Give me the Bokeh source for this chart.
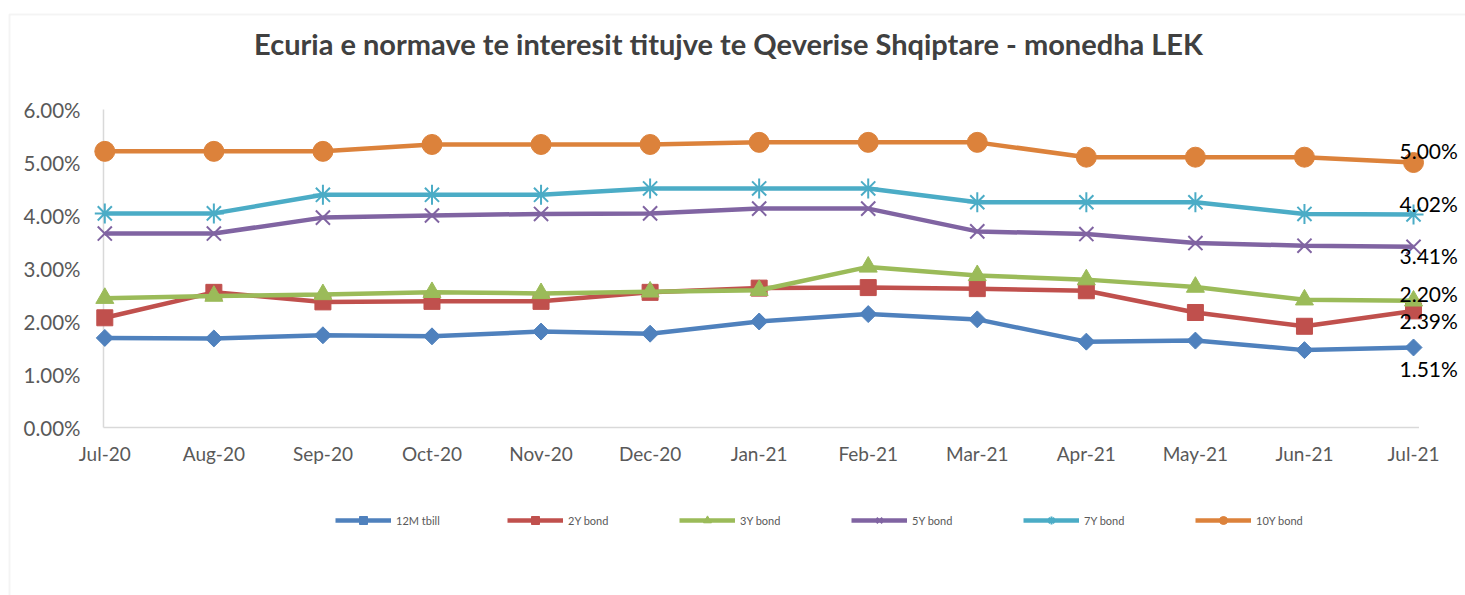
from bokeh.plotting import figure
from bokeh.models import (Range1d, Legend, LegendItem, Label, LabelSet,
                          ColumnDataSource, BoxAnnotation)
from bokeh.core.properties import value
from bokeh.embed import file_html
from bokeh.resources import INLINE
import math

# ---------------- data ----------------
months = ["Jul-20", "Aug-20", "Sep-20", "Oct-20", "Nov-20", "Dec-20", "Jan-21",
          "Feb-21", "Mar-21", "Apr-21", "May-21", "Jun-21", "Jul-21"]
tbill_12m = [1.69, 1.68, 1.74, 1.72, 1.81, 1.77, 2.00, 2.14, 2.04, 1.62, 1.64, 1.46, 1.51]
bond_2y = [2.07, 2.55, 2.37, 2.38, 2.38, 2.55, 2.63, 2.64, 2.62, 2.58, 2.17, 1.91, 2.20]
bond_3y = [2.44, 2.48, 2.51, 2.55, 2.53, 2.56, 2.59, 3.03, 2.87, 2.79, 2.65, 2.41, 2.39]
bond_5y = [3.66, 3.66, 3.96, 4.00, 4.03, 4.04, 4.13, 4.13, 3.70, 3.65, 3.48, 3.43, 3.41]
bond_7y = [4.04, 4.04, 4.39, 4.39, 4.39, 4.51, 4.51, 4.51, 4.25, 4.25, 4.25, 4.03, 4.02]
bond_10y = [5.21, 5.21, 5.21, 5.34, 5.34, 5.34, 5.38, 5.38, 5.38, 5.10, 5.10, 5.10, 5.00]
series_names = ["12M tbill", "2Y bond", "3Y bond", "5Y bond", "7Y bond", "10Y bond"]
y_ticks = [0, 1, 2, 3, 4, 5, 6]
title_text = "Ecuria e normave te interesit titujve te Qeverise Shqiptare - monedha LEK"

# ---------------- layout / styles ----------------
W, H = 1465, 595
X0_PX, X_STEP = 104.3, 109.06      # pixel of first month, pixels per month
Y0_PX, Y_STEP = 427.0, 53.0        # pixel of 0%, pixels per 1%
AXIS_X = -0.012                    # data x of the vertical axis line
AXIS_X_END = 12.05                 # data x where the horizontal axis line ends

series = [tbill_12m, bond_2y, bond_3y, bond_5y, bond_7y, bond_10y]
colors = ["#4F81BD", "#C0504D", "#9BBB59", "#8064A2", "#4BACC6", "#DC823B"]
markers = ["square", "square", "triangle", "x", "asterisk", "circle"]
msizes = [12, 16, 18, 20, 20, 20]
mangles = [math.pi / 4, 0, 0, 0, 0, 0]
label_dy = [-21, 17, -20, -9, 11, 12]   # data label offsets (px, up positive)

x_range = Range1d(-X0_PX / X_STEP, (W - X0_PX) / X_STEP)
y_range = Range1d(-(H - Y0_PX) / Y_STEP, Y0_PX / Y_STEP)

p = figure(width=W, height=H, output_backend="svg", toolbar_location=None,
           x_range=x_range, y_range=y_range,
           x_axis_location=None, y_axis_location=None,
           min_border=0, min_border_left=0, min_border_right=0,
           min_border_top=0, min_border_bottom=0)
p.outline_line_color = None
p.background_fill_color = "white"
p.border_fill_color = "white"
p.xgrid.grid_line_color = None
p.ygrid.grid_line_color = None

x = list(range(len(months)))

# chart-area border (top and left visible)
p.add_layout(BoxAnnotation(left=9, right=W + 50, top=H - 14, bottom=-50,
                           left_units="screen", right_units="screen",
                           top_units="screen", bottom_units="screen",
                           fill_alpha=0, line_color="#D9D9D9", line_width=2))

# axis lines
p.segment(x0=[AXIS_X, AXIS_X], y0=[y_ticks[0], y_ticks[0]],
          x1=[AXIS_X_END, AXIS_X], y1=[y_ticks[0], y_ticks[-1]],
          line_color="#D9D9D9", line_width=1.5)

# tick labels
p.text(x=[AXIS_X] * len(y_ticks), y=y_ticks, text=[f"{t:.2f}%" for t in y_ticks],
       x_offset=-23, text_align="right", text_baseline="middle",
       text_font=value("Lato"), text_font_size="20.5px", text_color="#595959")
p.text(x=x, y=[y_ticks[0]] * len(x), text=months, y_offset=26,
       text_align="center", text_baseline="middle",
       text_font=value("Lato"), text_font_size="19px", text_color="#595959")

items = []
for name, ys, c, m, s, a in zip(series_names, series, colors, markers, msizes, mangles):
    src = ColumnDataSource(dict(x=x, y=ys))
    ln = p.line("x", "y", source=src, line_color=c, line_width=4.5)
    if m in ("x", "asterisk"):
        sc = p.scatter("x", "y", source=src, marker=m, size=s, line_color=c,
                       line_width=2, fill_color=c)
    else:
        sc = p.scatter("x", "y", source=src, marker=m, size=s, angle=a,
                       fill_color=c, line_color=c, line_width=1)
    items.append(LegendItem(label=name, renderers=[ln, sc]))

# data labels for last point
lab_src = ColumnDataSource(dict(
    x=[x[-1]] * len(series),
    y=[s[-1] for s in series],
    t=[f"{s[-1]:.2f}%" for s in series],
    dy=label_dy,
))
p.add_layout(LabelSet(x="x", y="y", text="t", source=lab_src, x_offset=-14, y_offset="dy",
                      text_font=value("Lato"), text_font_size="21px", text_color="#000000",
                      text_baseline="middle", text_align="left"))

legend = Legend(items=items, orientation="horizontal", location=(335, 65),
                glyph_width=56, glyph_height=20, label_standoff=5, label_width=111,
                spacing=0, padding=0, margin=0, border_line_color=None,
                background_fill_alpha=0, label_text_font="Lato",
                label_text_font_size="11px", label_text_color="#595959")
p.add_layout(legend)

p.add_layout(Label(x=728, y=H - 43, x_units="screen", y_units="screen", text=title_text,
                   text_font="Lato", text_font_style="bold", text_font_size="29px",
                   text_color="#404040", text_align="center", text_baseline="middle"))

open("out.html", "w").write(file_html(p, INLINE))
